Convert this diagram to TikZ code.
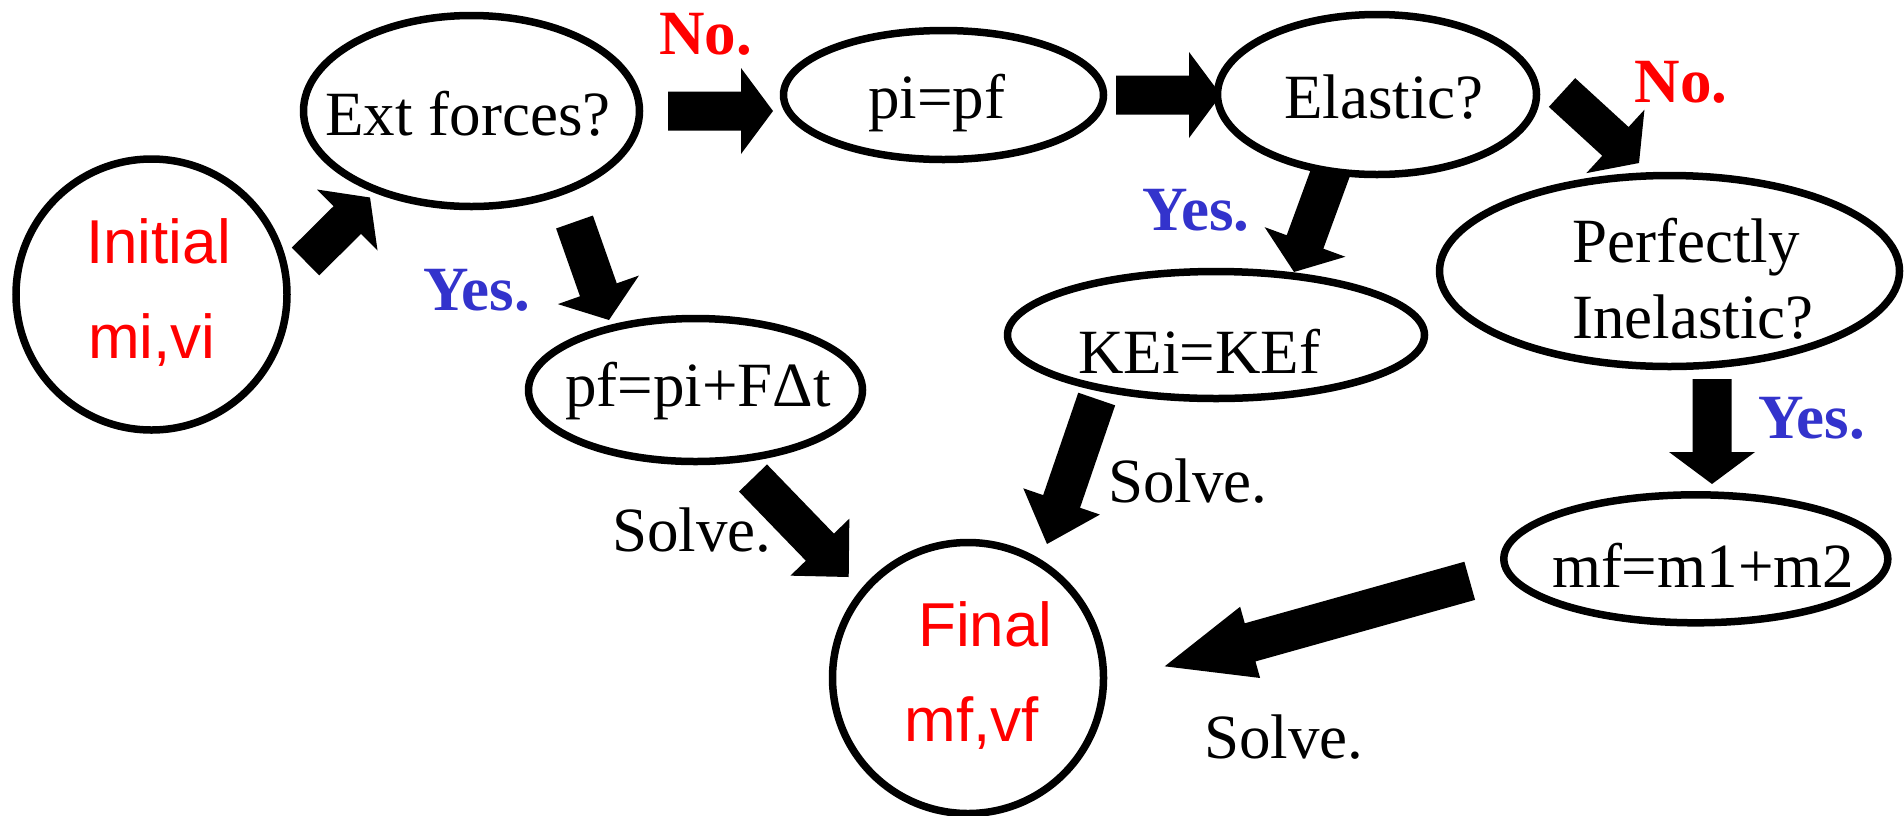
\documentclass[tikz,border=0pt]{standalone}
\usepackage{fontspec}
\setmainfont{Liberation Serif}
\setsansfont{Liberation Sans}
\usetikzlibrary{calc,shapes.geometric}
\definecolor{yesblue}{RGB}{51,51,204}
% #1 start, #2 tip, #3 half shaft width, #4 half head width, #5 head length
\newcommand\blkarrow[5]{%
  \coordinate (hb) at ($(#2)!#5!(#1)$);
  \fill[black] ($(#1)!#3!90:(#2)$) -- ($(hb)!#3!-90:(#1)$) -- ($(hb)!#4!-90:(#1)$) -- (#2)
    -- ($(hb)!#4!90:(#1)$) -- ($(hb)!#3!90:(#1)$) -- ($(#1)!#3!-90:(#2)$) -- cycle;
}
\tikzset{
  shp/.style={draw, line width=3.75pt, fill=white, inner sep=0pt},
  txt/.style={font=\fontsize{31.5pt}{36pt}\selectfont, inner sep=0pt, anchor=base},
  redsans/.style={font=\sffamily\fontsize{31pt}{36pt}\selectfont, text=red, inner sep=0pt, anchor=base},
  nolbl/.style={txt, font=\bfseries\fontsize{31.5pt}{36pt}\selectfont, text=red},
  yeslbl/.style={txt, font=\bfseries\fontsize{31.5pt}{36pt}\selectfont, text=yesblue},
}
\begin{document}
\begin{tikzpicture}[x=0.5pt,y=-0.5pt]
\useasboundingbox (0,0) rectangle (1904,815);
\fill[white] (0,0) rectangle (1904,815);

% arrow end points
\coordinate (a1s) at (305.5,261.5);  \coordinate (a1t) at (370,197.5);
\coordinate (a2s) at (668,111);      \coordinate (a2t) at (773,111);
\coordinate (a3s) at (1116,95);      \coordinate (a3t) at (1221,95);
\coordinate (a4s) at (574.5,222);    \coordinate (a4t) at (609,320);
\coordinate (a5s) at (1335.3,159.3); \coordinate (a5t) at (1294,272);
\coordinate (a6s) at (1562,92.5);    \coordinate (a6t) at (1639,163);
\coordinate (a7s) at (1712,379);     \coordinate (a7t) at (1712,484);
\coordinate (a8s) at (753,478);      \coordinate (a8t) at (848.7,577);
\coordinate (a9s) at (1096.7,399);   \coordinate (a9t) at (1047,544);
\coordinate (a10s) at (1469.7,580.8); \coordinate (a10t) at (1164.7,666.3);

\blkarrow{a1s}{a1t}{9.75pt}{21.5pt}{16pt}
\blkarrow{a2s}{a2t}{9.75pt}{21.5pt}{16pt}
\blkarrow{a3s}{a3t}{9.75pt}{21.5pt}{16pt}
\blkarrow{a4s}{a4t}{9.75pt}{21.5pt}{16pt}
\blkarrow{a5s}{a5t}{9.75pt}{21.5pt}{16pt}
\blkarrow{a6s}{a6t}{9.75pt}{21.5pt}{16pt}
\blkarrow{a7s}{a7t}{9.75pt}{21.5pt}{16pt}
\blkarrow{a8s}{a8t}{9.75pt}{20.5pt}{20.75pt}
\blkarrow{a9s}{a9t}{9.75pt}{20.25pt}{22.5pt}
\blkarrow{a10s}{a10t}{9.9pt}{18.5pt}{44.35pt}

% shapes
\node[shp, circle, minimum size=135.5pt] (init) at (151.5,294.5) {};
\node[shp, circle, minimum size=135.5pt] (final) at (968,678) {};
\node[shp, ellipse, minimum width=168pt, minimum height=95.5pt] (ext) at (471.5,111) {};
\node[shp, ellipse, minimum width=160pt, minimum height=64.5pt] (pipf) at (943.5,95) {};
\node[shp, ellipse, minimum width=159.5pt, minimum height=80pt] (elastic) at (1377,94.5) {};
\node[shp, ellipse, minimum width=230pt, minimum height=95.5pt] (perf) at (1669.5,271) {};
\node[shp, ellipse, minimum width=167pt, minimum height=71.5pt] (pf) at (695.5,390) {};
\node[shp, ellipse, minimum width=208.5pt, minimum height=63.5pt] (kei) at (1216,335) {};
\node[shp, ellipse, minimum width=192pt, minimum height=64pt] (mf) at (1695.8,558.8) {};

% texts
\node[redsans] (tinit1) at (158.5,263) {Initial};
\node[redsans] (tinit2) at (152,358) {mi,vi};
\node[redsans] (tfin1) at (985.5,646.5) {Final};
\node[redsans] (tfin2) at (971.5,741.5) {mf,vf};
\node[txt] (text) at (468,135) {Ext forces?};
\node[txt] (tpipf) at (936.5,118.3) {pi=pf};
\node[txt] (telastic) at (1384,118.3) {Elastic?};
\node[txt, anchor=base west] (tperf1) at (1572,262) {Perfectly};
\node[txt, anchor=base west] (tperf2) at (1572,338) {Inelastic?};
\node[txt] (tpf) at (698,406) {pf=pi+FΔt};
\node[txt] (tkei) at (1199,373.3) {KEi=KEf};
\node[txt] (tmf) at (1703,587) {mf=m1+m2};

\node[nolbl] (no1) at (705.5,54.3) {No.};
\node[nolbl] (no2) at (1681,102.7) {No.};
\node[yeslbl] (yes1) at (476.7,310) {Yes.};
\node[yeslbl] (yes2) at (1196.3,230.7) {Yes.};
\node[yeslbl, anchor=base west] (yes3) at (1758,438.7) {Yes.};
\node[txt] (solve1) at (691.8,551.3) {Solve.};
\node[txt] (solve2) at (1188,502.3) {Solve.};
\node[txt] (solve3) at (1284,758.7) {Solve.};
\end{tikzpicture}
\end{document}
